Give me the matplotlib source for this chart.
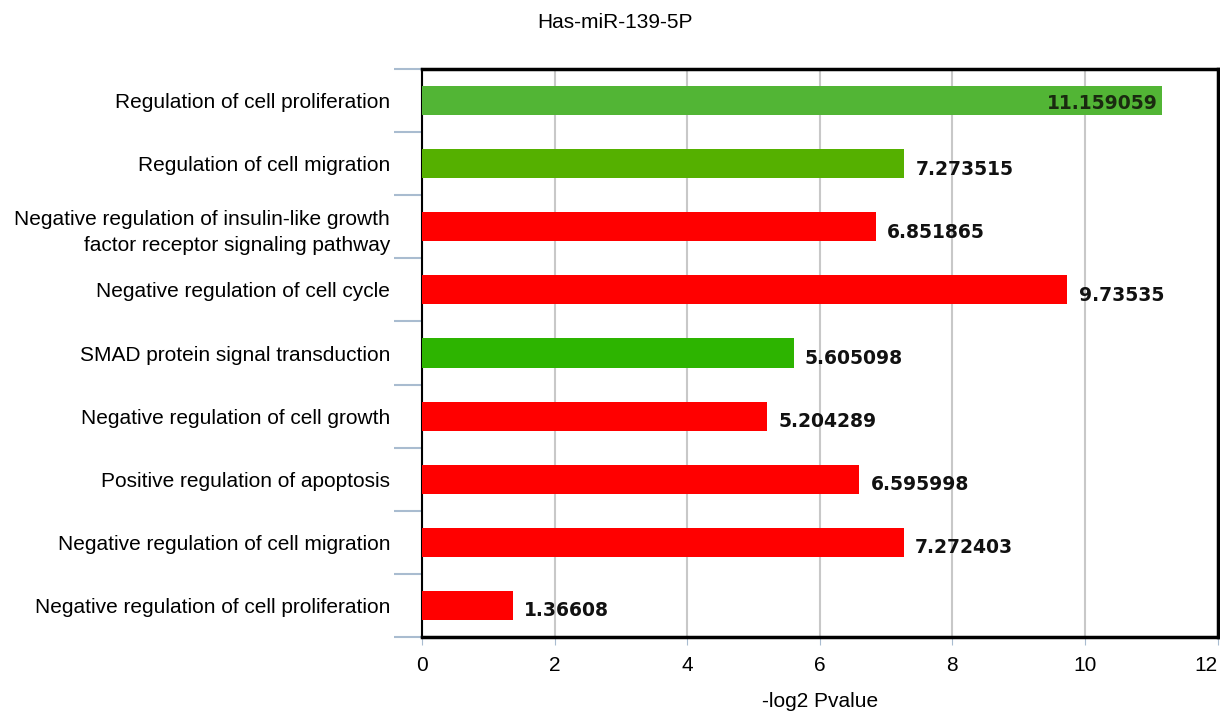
import matplotlib.pyplot as plt
import numpy as np

plt.rcParams['font.family'] = ['Liberation Sans', 'DejaVu Sans']

# GO terms, top to bottom
terms = [
    "Regulation of cell proliferation",
    "Regulation of cell migration",
    "Negative regulation of insulin-like growth\nfactor receptor signaling pathway",
    "Negative regulation of cell cycle",
    "SMAD protein signal transduction",
    "Negative regulation of cell growth",
    "Positive regulation of apoptosis",
    "Negative regulation of cell migration",
    "Negative regulation of cell proliferation",
]
values = [11.159059, 7.273515, 6.851865, 9.73535, 5.605098,
          5.204289, 6.595998, 7.272403, 1.36608]
labels = ["11.159059", "7.273515", "6.851865", "9.73535", "5.605098",
          "5.204289", "6.595998", "7.272403", "1.36608"]
colors = ["#52B535", "#55B000", "#FF0000", "#FF0000", "#2DB400",
          "#FF0000", "#FF0000", "#FF0000", "#FF0000"]

fig = plt.figure(figsize=(12.2, 7.13), dpi=100)
ax = fig.add_axes([0.3459, 0.1066, 0.6521, 0.7966])

y = np.arange(len(terms))
ax.barh(y, values, height=0.46, color=colors, zorder=3)

ax.set_xlim(0, 12)
ax.set_ylim(len(terms) - 0.5, -0.5)
ax.set_xticks(np.arange(0, 13, 2))
ax.tick_params(axis='x', labelsize=15, length=6, color='#A9BCD0', pad=8)
ax.grid(axis='x', color='#C8C8C8', linewidth=1.5, zorder=0)
ax.get_xticklabels()[-1].set_ha('right')

# category labels placed between boundary ticks
ax.set_yticks(np.arange(-0.5, len(terms), 1))
ax.set_yticklabels([])
ax.set_yticks(y, minor=True)
ax.set_yticklabels(terms, minor=True, fontsize=15, ha='right', linespacing=1.45)
ax.tick_params(axis='y', which='major', length=20, color='#A9BCD0', width=1.5)
ax.tick_params(axis='y', which='minor', length=0, pad=23)
for t in ax.get_yticklabels(minor=True):
    t.set_y(t.get_position()[1])

for s in ax.spines.values():
    s.set_linewidth(2.5)
    s.set_color('black')
ax.spines['left'].set_linewidth(1.5)

for i, (v, lab) in enumerate(zip(values, labels)):
    if i == 0:
        ax.annotate(lab, (v, i), xytext=(-3, -2), textcoords='offset points',
                    ha='right', va='center', fontsize=13.5, fontweight='bold',
                    family='DejaVu Sans', color='#1A2A10', zorder=4)
    else:
        ax.annotate(lab, (v, i), xytext=(8, -4), textcoords='offset points',
                    ha='left', va='center', fontsize=13.5, fontweight='bold',
                    family='DejaVu Sans', color='#111111', zorder=4)

ax.set_xlabel("-log2 Pvalue", fontsize=15, labelpad=12)
fig.text(0.504, 0.969, "Has-miR-139-5P", ha='center', va='center', fontsize=15)

fig.savefig("out.png", dpi=100)
